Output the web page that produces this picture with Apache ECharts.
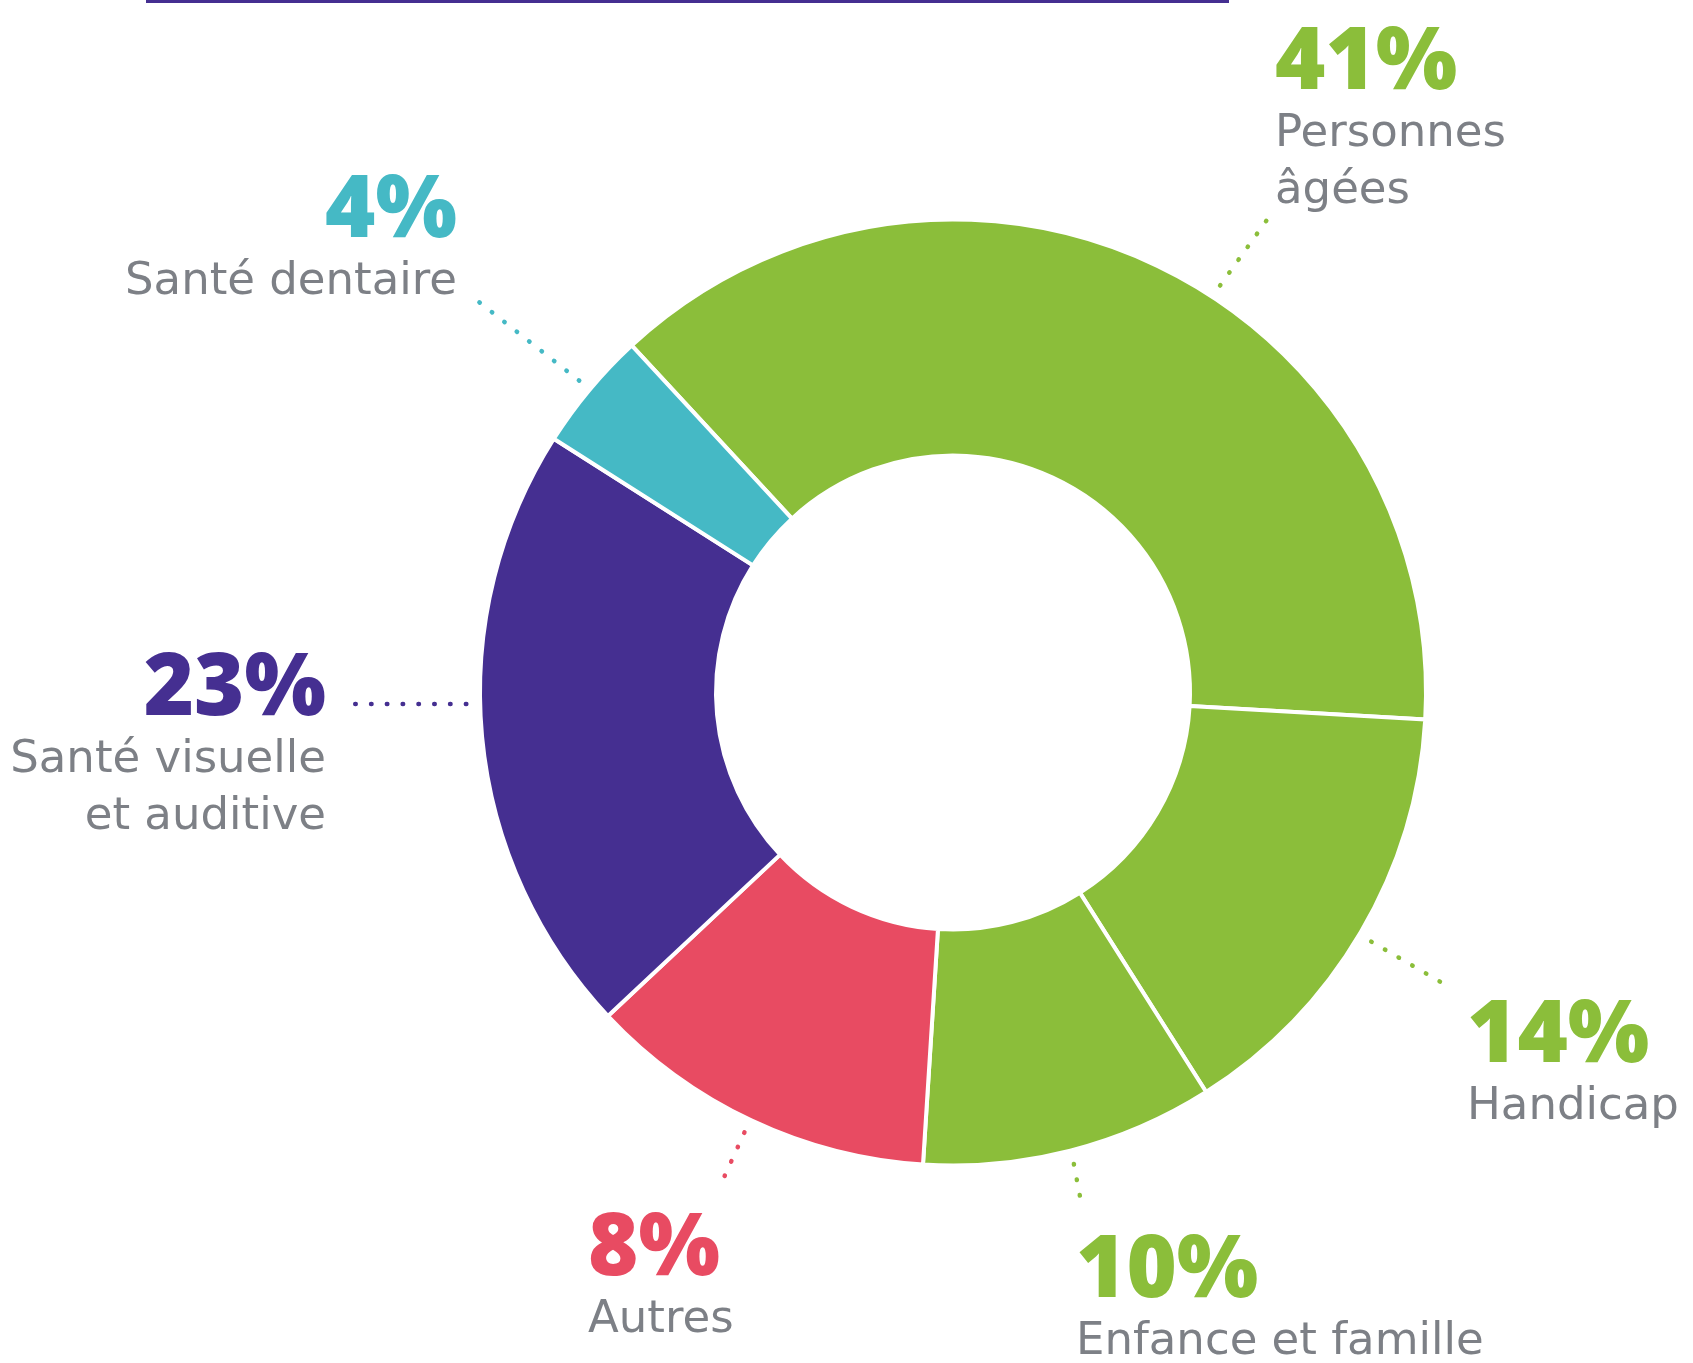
<!DOCTYPE html>
<html>
<head>
<meta charset="utf-8">
<script src="https://cdn.jsdelivr.net/npm/echarts@6/dist/echarts.min.js"></script>
<style>html,body{margin:0;padding:0;background:#fff}#chart{width:1693px;height:1363px}</style>
</head>
<body>
<div id="chart"></div>
<script>
// ---- data ----
const categories = ['Personnes âgées', 'Handicap', 'Enfance et famille', 'Autres', 'Santé visuelle et auditive', 'Santé dentaire'];
const labelLines = [['Personnes', 'âgées'], ['Handicap'], ['Enfance et famille'], ['Autres'], ['Santé visuelle', 'et auditive'], ['Santé dentaire']];
const shares = [41, 14, 10, 8, 23, 4];                 // printed percentages
const arcShares = [37.8, 15.1, 10.0, 12.0, 21.0, 4.1]; // slice sizes as drawn in the picture
const colors = ['#8bbe3a', '#8bbe3a', '#8bbe3a', '#e84b62', '#452f91', '#45b9c5'];

// ---- layout (not data) ----
const CX = 953, CY = 692.5, R_OUT = 471;
const labelAnchor = [[1275, 22, 'left'], [1467, 995, 'left'], [1076, 1230, 'left'], [588, 1208, 'left'], [326, 648, 'right'], [457, 170, 'right']];
const lineAngle = [33.2, 120.8, 165.5, 205.4, 268.6, 309.9];
const lineEnd = [[1269, 217], [1451, 988], [1082, 1207], [721, 1184], [352, 704], [479, 302]];

const rich = {};
colors.forEach((c, i) => {
  rich['p' + i] = { fontFamily: 'Open Sans', fontWeight: 800, fontSize: 86, lineHeight: 84, color: c, align: labelAnchor[i][2] };
  rich['n' + i] = { fontFamily: 'DejaVu Sans', fontWeight: 400, fontSize: 45, lineHeight: 57, color: '#7d8086', align: labelAnchor[i][2] };
});

const chart = echarts.init(document.getElementById('chart'), null, { renderer: 'canvas' });
chart.setOption({
  animation: false,
  backgroundColor: '#ffffff',
  graphic: [{ type: 'rect', shape: { x: 146, y: 0, width: 1083, height: 3 }, style: { fill: '#452f91' } }],
  series: [{
    type: 'pie',
    center: [CX, CY],
    radius: [237, 473],
    startAngle: 132.8,
    clockwise: true,
    avoidLabelOverlap: false,
    itemStyle: { borderColor: '#ffffff', borderWidth: 4 },
    label: {
      show: true,
      position: 'outside',
      fontFamily: 'DejaVu Sans',
      formatter: function (p) {
        const i = p.dataIndex;
        return '{p' + i + '|' + shares[i] + '%}\n' + labelLines[i].map(l => '{n' + i + '|' + l + '}').join('\n');
      },
      rich: rich
    },
    labelLine: { show: true, smooth: false, lineStyle: { width: 4.5, type: [0.5, 15.3], cap: 'round' } },
    labelLayout: function (p) {
      const i = p.dataIndex;
      const a = lineAngle[i] * Math.PI / 180;
      const s = [CX + R_OUT * Math.sin(a), CY - R_OUT * Math.cos(a)];
      const e = lineEnd[i];
      return {
        x: labelAnchor[i][0], y: labelAnchor[i][1], align: labelAnchor[i][2], verticalAlign: 'top',
        labelLinePoints: [s, [(s[0] + e[0]) / 2, (s[1] + e[1]) / 2], e]
      };
    },
    emphasis: { disabled: true },
    data: categories.map((name, i) => ({ name: name, value: arcShares[i], itemStyle: { color: colors[i] } }))
  }]
});
</script>
</body>
</html>
